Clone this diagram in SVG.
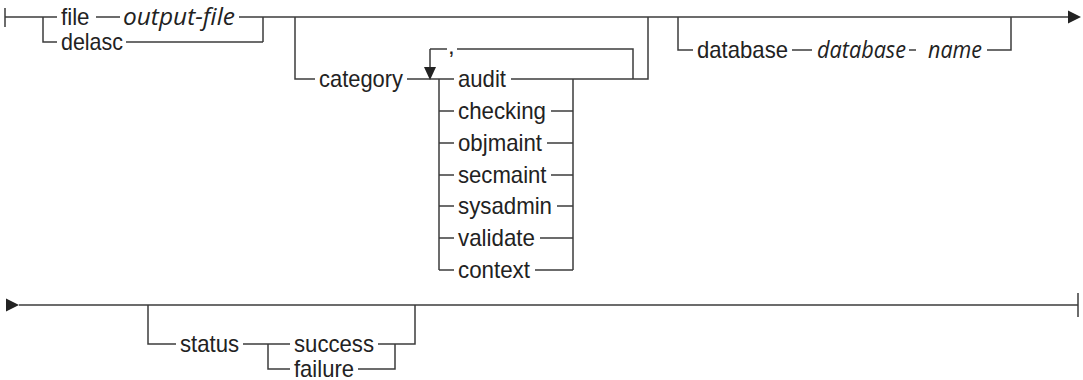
<svg xmlns="http://www.w3.org/2000/svg" width="1083" height="380" viewBox="0 0 1083 380">
<defs>
<style>
.l{fill:none;stroke:#3c3c3c;stroke-width:1.5}
.t{font-family:"Liberation Sans",Arial,sans-serif;font-size:24px;fill:#222}
.v{font-family:"Open Sans","Noto Sans",sans-serif;font-style:italic;font-size:24px;fill:#222}
.a{fill:#222;stroke:none}
</style>
</defs>
<rect width="1083" height="380" fill="#fff"/>
<g id="connectors">
<path class="l" d="M5 8V27M5 17H57M43 17V42H57M96 17H120M239 17H263V42M126 42H263M263 17H1068"/>
<path class="l" d="M295 17V79H315M407 79H454M430 49V68M430 49H447M457 49H633V79M511 79H648V17"/>
<path class="l" d="M439 79V270M439 111H454M439 143H454M439 175H454M439 206H454M439 238H454M439 270H454M573 79V270M551 111H573M547 143H573M551 175H573M557 206H573M540 238H573M535 270H573"/>
<path class="l" d="M678 17V50H693M792 50H812M909 50H916M987 50H1011V17"/>
<path class="l" d="M19 305H1078M1078 293V317M148 305V344H176M243 344H290M268 344V369H290M378 344H415V305M358 369H395V344"/>
<polygon class="a" points="1068,10.5 1081,17 1068,23.5"/>
<polygon class="a" points="424,67 436,67 430,80"/>
<polygon class="a" points="6,298.5 19,305 6,311.5"/>
</g>
<g id="file"><text class="t" x="61" y="25" textLength="28.5" lengthAdjust="spacingAndGlyphs">file</text><text class="v" x="123" y="25" textLength="112" lengthAdjust="spacingAndGlyphs">output-file</text></g>
<g id="delasc"><text class="t" x="61" y="50" textLength="62" lengthAdjust="spacingAndGlyphs">delasc</text></g>
<g id="category"><text class="t" x="319" y="87" textLength="84" lengthAdjust="spacingAndGlyphs">category</text><text class="t" x="448" y="54">,</text></g>
<g id="audit"><text class="t" x="458" y="87" textLength="48" lengthAdjust="spacingAndGlyphs">audit</text></g>
<g id="checking"><text class="t" x="458" y="119" textLength="88" lengthAdjust="spacingAndGlyphs">checking</text></g>
<g id="objmaint"><text class="t" x="458" y="151" textLength="84" lengthAdjust="spacingAndGlyphs">objmaint</text></g>
<g id="secmaint"><text class="t" x="458" y="183" textLength="88.5" lengthAdjust="spacingAndGlyphs">secmaint</text></g>
<g id="sysadmin"><text class="t" x="458" y="214" textLength="94" lengthAdjust="spacingAndGlyphs">sysadmin</text></g>
<g id="validate"><text class="t" x="458" y="246" textLength="77" lengthAdjust="spacingAndGlyphs">validate</text></g>
<g id="context"><text class="t" x="458" y="278" textLength="72" lengthAdjust="spacingAndGlyphs">context</text></g>
<g id="database"><text class="t" x="697" y="58" textLength="91" lengthAdjust="spacingAndGlyphs">database</text><text class="v" x="817" y="58" textLength="89" lengthAdjust="spacingAndGlyphs">database</text><text class="v" x="928" y="58" textLength="54" lengthAdjust="spacingAndGlyphs">name</text></g>
<g id="status"><text class="t" x="180" y="352" textLength="59" lengthAdjust="spacingAndGlyphs">status</text></g>
<g id="success"><text class="t" x="294" y="352" textLength="80" lengthAdjust="spacingAndGlyphs">success</text></g>
<g id="failure"><text class="t" x="294" y="377" textLength="60" lengthAdjust="spacingAndGlyphs">failure</text></g>
</svg>
